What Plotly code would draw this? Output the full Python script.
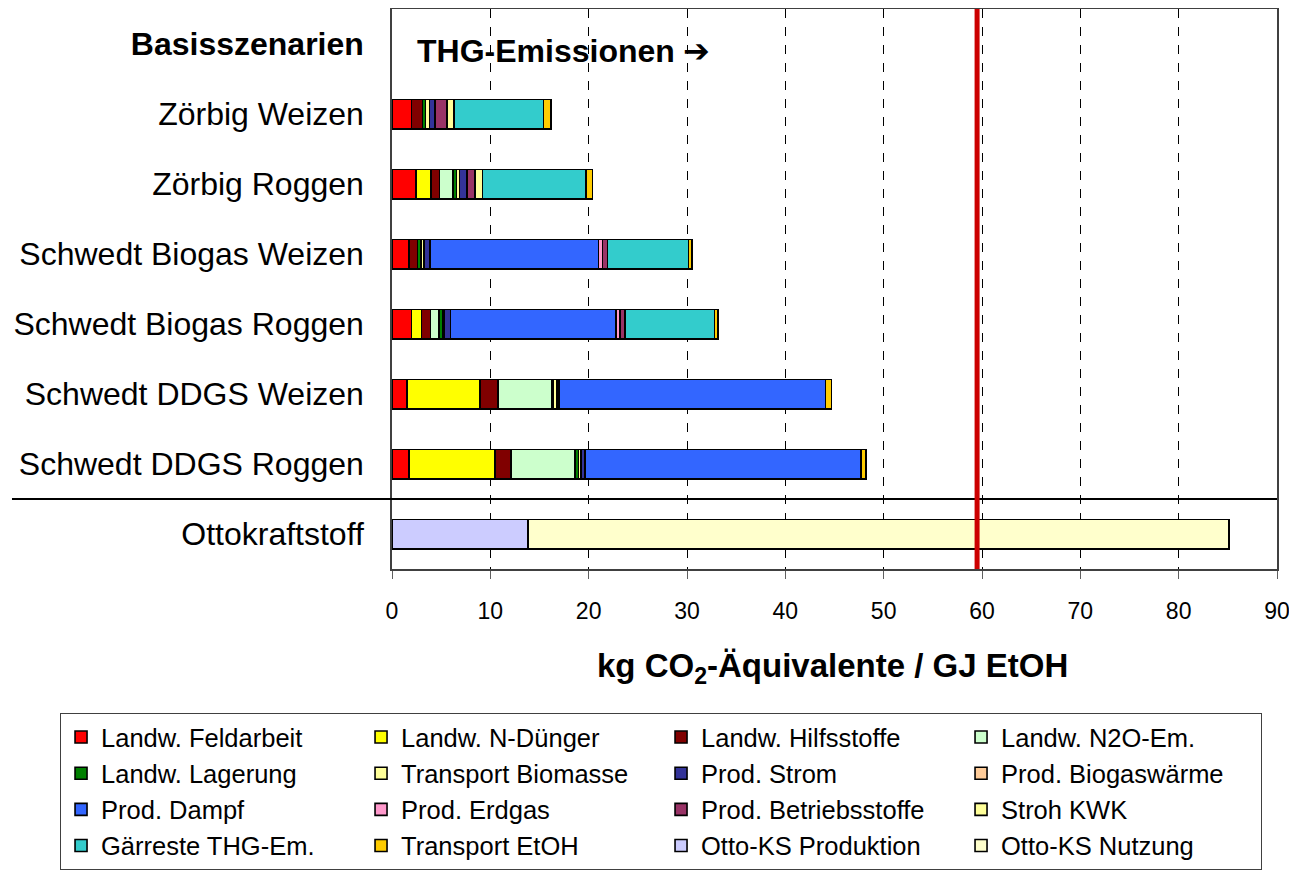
import plotly.graph_objects as go

# ---------------- data ----------------
categories = ["Zörbig Weizen", "Zörbig Roggen", "Schwedt Biogas Weizen",
              "Schwedt Biogas Roggen", "Schwedt DDGS Weizen", "Schwedt DDGS Roggen",
              "Ottokraftstoff"]
header_label = "Basisszenarien"

series_names = ["Landw. Feldarbeit", "Landw. N-Dünger", "Landw. Hilfsstoffe", "Landw. N2O-Em.",
                "Landw. Lagerung", "Transport Biomasse", "Prod. Strom", "Prod. Biogaswärme",
                "Prod. Dampf", "Prod. Erdgas", "Prod. Betriebsstoffe", "Stroh KWK",
                "Gärreste THG-Em.", "Transport EtOH", "Otto-KS Produktion", "Otto-KS Nutzung"]

landw_feldarbeit   = [2.0, 2.45, 1.75, 2.0, 1.55, 1.75, 0]
landw_n_duenger    = [0, 1.5, 0, 1.0, 7.4, 8.7, 0]
landw_hilfsstoffe  = [1.1, 0.9, 0.85, 0.9, 1.8, 1.65, 0]
landw_n2o          = [0, 1.35, 0, 0.9, 5.5, 6.5, 0]
landw_lagerung     = [0.3, 0.35, 0.35, 0.4, 0.15, 0.35, 0]
transport_biomasse = [0.4, 0.3, 0.3, 0.15, 0.35, 0.25, 0]
prod_strom         = [0.6, 0.75, 0.6, 0.6, 0.25, 0.4, 0]
prod_biogaswaerme  = [0, 0, 0, 0, 0, 0, 0]
prod_dampf         = [0, 0, 17.15, 16.8, 27.1, 28.1, 0]
prod_erdgas        = [0, 0, 0.4, 0.45, 0, 0, 0]
prod_betriebsst    = [1.2, 0.85, 0.5, 0.5, 0, 0, 0]
stroh_kwk          = [0.7, 0.75, 0, 0, 0, 0, 0]
gaerreste          = [9.1, 10.5, 8.25, 9.1, 0, 0, 0]
transport_etoh     = [0.75, 0.7, 0.35, 0.35, 0.6, 0.5, 0]
otto_produktion    = [0, 0, 0, 0, 0, 0, 13.85]
otto_nutzung       = [0, 0, 0, 0, 0, 0, 71.25]

series_values = [landw_feldarbeit, landw_n_duenger, landw_hilfsstoffe, landw_n2o,
                 landw_lagerung, transport_biomasse, prod_strom, prod_biogaswaerme,
                 prod_dampf, prod_erdgas, prod_betriebsst, stroh_kwk,
                 gaerreste, transport_etoh, otto_produktion, otto_nutzung]

series_colors = ["#FF0000", "#FFFF00", "#800000", "#CCFFCC",
                 "#008000", "#FFFF99", "#333399", "#FFCC99",
                 "#3366FF", "#FF99CC", "#993366", "#FFFF99",
                 "#33CCCC", "#FFCC00", "#CCCCFF", "#FFFFCC"]

reference_value = 59.5   # red line (fossil reference)
x_ticks = [0, 10, 20, 30, 40, 50, 60, 70, 80, 90]

FONT = "Liberation Sans, Arial, Helvetica, sans-serif"

# ---------------- figure ----------------
fig = go.Figure()
for name, vals, col in zip(series_names, series_values, series_colors):
    fig.add_trace(go.Bar(
        y=categories,
        x=[v if v else None for v in vals],
        name=name,
        orientation="h",
        marker=dict(color=col, line=dict(color="black", width=1.6)),
        width=0.42,
    ))

cat_order = [header_label] + categories
tick_text = ["<b>" + header_label + "</b>"] + categories

# page body adds an 8px margin, so the figure is 1289x862
fig.update_layout(
    width=1289, height=862,
    barmode="stack",
    plot_bgcolor="white", paper_bgcolor="white",
    margin=dict(l=384, r=20, t=1, b=301, autoexpand=False),
    font=dict(family=FONT, color="black"),
    xaxis=dict(range=[0, 90], tickvals=x_ticks, ticks="outside", ticklen=8,
               tickcolor="#606060", showgrid=True, gridcolor="black", griddash="dash",
               gridwidth=1, showline=True, linecolor="#404040", linewidth=1.5,
               mirror=True, tickfont=dict(size=23), zeroline=False,
               ticklabelstandoff=13),
    yaxis=dict(type="category", categoryorder="array", categoryarray=cat_order,
               tickvals=cat_order, ticktext=tick_text, range=[7.5, -0.5],
               showgrid=False, showline=True, linecolor="#404040", linewidth=1.5,
               mirror=True, ticks="", ticklabelstandoff=20, tickfont=dict(size=32)),
    legend=dict(orientation="h", x=-0.3751, xanchor="left", y=-0.2571, yanchor="top",
                entrywidth=255, entrywidthmode="pixels", bordercolor="#404040",
                borderwidth=1, font=dict(size=25.5), traceorder="normal"),
    showlegend=True,
)

fig.add_shape(type="line", xref="paper", yref="y", x0=-0.4294, x1=1, y0=6.5, y1=6.5,
              line=dict(color="black", width=2))
fig.add_shape(type="line", xref="x", yref="paper", x0=reference_value, x1=reference_value,
              y0=0, y1=1, line=dict(color="#CC0000", width=5), layer="above")

fig.add_annotation(xref="paper", yref="paper", x=0.026, y=0.925, xanchor="left",
                   yanchor="middle", showarrow=False,
                   text="<b>THG-Emissionen</b>", font=dict(size=32))
fig.add_annotation(xref="paper", yref="paper", x=0.326, y=0.925, xanchor="left",
                   yanchor="middle", showarrow=False,
                   text="<b>➔</b>", font=dict(size=32, family="DejaVu Sans"))
fig.add_annotation(xref="paper", yref="paper", x=0.498, y=-0.177, xanchor="center",
                   yanchor="middle", showarrow=False,
                   text="<b>kg CO<sub>2</sub>-Äquivalente / GJ EtOH</b>", font=dict(size=33))

fig.write_html("out.html")
